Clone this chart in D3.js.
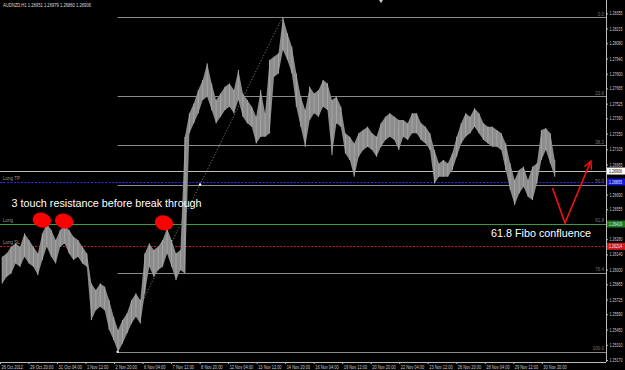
<!DOCTYPE html>
<html>
<head>
<meta charset="utf-8">
<script src="https://cdn.jsdelivr.net/npm/d3@7"></script>
<style>
body{margin:0;background:#000;overflow:hidden;}
svg{display:block;}
</style>
</head>
<body>
<svg width="625" height="370"></svg>
<script>
// AUDNZD H1
var header = "AUDNZD,H1  1.26951 1.26979 1.26860 1.26906";
var segBars = 5; // each high/low pair covers 5 hourly bars
var segHigh = [1.26118,1.26149,1.26210,1.26241,1.26210,1.26333,1.26272,1.26210,1.26149,1.26333,
  1.26425,1.26364,1.26272,1.26364,1.26409,1.26364,1.26302,1.26272,1.26210,1.26149,
  1.25873,1.25812,1.25873,1.25843,1.25720,1.25567,1.25445,1.25537,1.25598,1.25720,
  1.25782,1.25720,1.26149,1.26241,1.26180,1.26210,1.26272,1.26379,1.26272,1.26149,
  1.26180,1.27221,1.27436,1.27527,1.27650,1.27742,1.27895,1.27711,1.27558,1.27619,
  1.27681,1.27711,1.27650,1.27834,1.27619,1.27558,1.27497,1.27405,1.27650,1.27436,
  1.27926,1.27956,1.27987,1.28318,1.28171,1.28048,1.27803,1.27589,1.27466,1.27681,
  1.27619,1.27650,1.27742,1.27711,1.27558,1.27589,1.27497,1.27252,1.27221,1.27160,
  1.27252,1.27282,1.27313,1.27252,1.27221,1.27344,1.27405,1.27436,1.27405,1.27374,
  1.27374,1.27344,1.27436,1.27436,1.27344,1.27313,1.27252,1.27099,1.26976,1.27007,
  1.26976,1.27068,1.27221,1.27344,1.27436,1.27405,1.27482,1.27436,1.27344,1.27313,
  1.27313,1.27282,1.27252,1.27160,1.26976,1.26823,1.26915,1.26945,1.26823,1.26945,
  1.26976,1.27282,1.27298,1.27252,1.27007];
var segLow = [1.25873,1.25935,1.25965,1.26057,1.26027,1.26118,1.26057,1.26027,1.25950,1.26088,
  1.26210,1.26118,1.26057,1.26210,1.26241,1.26149,1.26088,1.26118,1.26057,1.26027,
  1.25537,1.25628,1.25659,1.25628,1.25445,1.25353,1.25246,1.25322,1.25414,1.25506,
  1.25567,1.25506,1.25782,1.26027,1.25935,1.25996,1.26027,1.26149,1.26027,1.25904,
  1.25996,1.25965,1.27252,1.27344,1.27436,1.27558,1.27589,1.27466,1.27344,1.27405,
  1.27466,1.27497,1.27436,1.27558,1.27405,1.27344,1.27313,1.27160,1.27221,1.27221,
  1.27252,1.27773,1.27803,1.28018,1.27926,1.27803,1.27497,1.27313,1.27129,1.27374,
  1.27436,1.27405,1.27497,1.27466,1.27053,1.27344,1.27313,1.27068,1.27007,1.26854,
  1.27037,1.27099,1.27129,1.27099,1.27037,1.27129,1.27191,1.27221,1.27191,1.27099,
  1.27221,1.27191,1.27252,1.27252,1.27191,1.27160,1.27099,1.26792,1.26854,1.26854,
  1.26854,1.26915,1.27037,1.27160,1.27221,1.27252,1.27313,1.27252,1.27191,1.27160,
  1.27129,1.27129,1.27099,1.26915,1.26731,1.26593,1.26700,1.26762,1.26670,1.26639,
  1.26792,1.27007,1.27099,1.26976,1.26854];

var priceTicks = [1.28355,1.28215,1.28080,1.27940,1.27800,1.27665,1.27525,1.27390,1.27250,1.27105,
  1.26965,1.26830,1.26690,1.26555,1.26415,1.26280,1.26140,1.26000,1.25865,1.25725,
  1.25590,1.25450,1.25310,1.25170];
var timeLabels = ["26 Oct 2012","29 Oct 20:00","31 Oct 04:00","1 Nov 12:00","2 Nov 20:00",
  "6 Nov 04:00","7 Nov 12:00","8 Nov 20:00","12 Nov 04:00","13 Nov 12:00","14 Nov 20:00",
  "16 Nov 04:00","19 Nov 12:00","20 Nov 20:00","22 Nov 04:00","23 Nov 12:00","26 Nov 20:00",
  "28 Nov 04:00","29 Nov 12:00","30 Nov 20:00"];
var timeLabelBars = [0,32,64,96,128,160,192,224,256,288,320,352,384,416,448,480,512,544,576,608];

// fibonacci retracement
var fibLevels = [0, 23.6, 38.2, 50, 61.8, 76.4, 100];
var fibLowBar = 132, fibLowPrice = 1.25246;
var fibHighBar = 317, fibHighPrice = 1.28318;

// price lines
var lastPrice = 1.26906;
var orderNames = ["Long TP","Long","Long SL"];
var orderPrices = [1.26805, 1.26419, 1.26214];

// annotations
var touchBars = [47, 72, 184];
var touchPrices = [1.26455, 1.26446, 1.26430];
var note1 = "3 touch resistance before break through";
var note2 = "61.8 Fibo confluence";
var arrowBars = [620, 634, 663];
var arrowPrices = [1.26749, 1.26428, 1.26997];

var svg = d3.select("svg");
var plotR = 606, plotB = 362;
var font = "'Liberation Sans', Arial, sans-serif";

var x = d3.scaleLinear().domain([0, 680]).range([0, plotR]);
var y = d3.scaleLinear().domain([1.25170, 1.28355]).range([360, 13.3]);

svg.append("rect").attr("width",625).attr("height",370).attr("fill","#000");

// fibo levels
var fibG = svg.append("g");
var fibPrice = l => fibHighPrice - (fibHighPrice - fibLowPrice) * l / 100;
fibG.selectAll("line").data(fibLevels).enter().append("line")
  .attr("x1", x(fibLowBar)).attr("x2", plotR)
  .attr("y1", d => Math.round(y(fibPrice(d))) + 0.5)
  .attr("y2", d => Math.round(y(fibPrice(d))) + 0.5)
  .attr("stroke", "#8a8a8a").attr("stroke-width", 1);
fibG.selectAll("text").data(fibLevels).enter().append("text")
  .attr("x", plotR - 2).attr("y", d => y(fibPrice(d)) - 1.5)
  .attr("text-anchor","end").attr("font-family",font).attr("font-size",4.5)
  .attr("fill","#777").text(d => d.toFixed(1));
// trend line of the fibo
svg.append("line")
  .attr("x1", x(fibLowBar)).attr("y1", y(fibLowPrice))
  .attr("x2", x(fibHighBar)).attr("y2", y(fibHighPrice))
  .attr("stroke","#aaa").attr("stroke-width",0.8).attr("stroke-dasharray","1,2");
svg.append("circle")
  .attr("cx", x((fibLowBar + fibHighBar) / 2)).attr("cy", y(fibPrice(50)))
  .attr("r",1.2).attr("fill","#fff");
svg.append("circle")
  .attr("cx", x(fibLowBar)).attr("cy", y(fibLowPrice))
  .attr("r",1.2).attr("fill","#fff");

// order lines
var lineColor = {"Long TP":"#2a2aff","Long":"#3f9a3f","Long SL":"#c81e1e"};
var boxColor = {"Long TP":"#1515e0","Long":"#1e7a1e","Long SL":"#d11a1a"};
svg.append("line")
  .attr("x1",0).attr("x2",plotR)
  .attr("y1",Math.round(y(lastPrice))+0.5).attr("y2",Math.round(y(lastPrice))+0.5)
  .attr("stroke","#bdbdbd").attr("stroke-width",1);
var ord = svg.selectAll(".ord").data(orderNames).enter().append("g");
ord.append("line")
  .attr("x1",0).attr("x2",plotR)
  .attr("y1",(d,i)=>Math.round(y(orderPrices[i]))+0.5)
  .attr("y2",(d,i)=>Math.round(y(orderPrices[i]))+0.5)
  .attr("stroke",d=>lineColor[d]).attr("stroke-width",1)
  .attr("stroke-dasharray",d=>d=="Long" ? null : "2,1.5");
ord.append("text")
  .attr("x",3).attr("y",(d,i)=>y(orderPrices[i]) - 2)
  .attr("font-family",font).attr("font-size",4.5).attr("fill","#999")
  .text(d=>d);

// price bars: hi/lo band + one thin bar per segment
var mid = i => x(i*segBars + segBars/2);
svg.append("path")
  .datum(segHigh)
  .attr("d", d3.area().x((d,i)=>mid(i)).y0((d,i)=>y(segLow[i])).y1(d=>y(d)))
  .attr("fill","#8c8c8c");
svg.append("g").selectAll("line").data(segHigh).enter().append("line")
  .attr("x1",(d,i)=>mid(i)).attr("x2",(d,i)=>mid(i))
  .attr("y1",d=>y(d)).attr("y2",(d,i)=>y(segLow[i]))
  .attr("stroke","#a6a6a6").attr("stroke-width",1);

// frame
svg.append("line").attr("x1",plotR+0.5).attr("x2",plotR+0.5).attr("y1",0).attr("y2",plotB)
  .attr("stroke","#bbb");
svg.append("line").attr("x1",0).attr("x2",plotR).attr("y1",plotB+0.5).attr("y2",plotB+0.5)
  .attr("stroke","#bbb");

// price boxes on the axis
var boxes = [{p:lastPrice, bg:"#ffffff", fg:"#000"}].concat(
  orderNames.map((d,i)=>({p:orderPrices[i], bg:boxColor[d], fg:"#e8e8e8"})));

// price axis (labels hidden where a box sits)
var shownTicks = priceTicks.filter(t => boxes.every(b => Math.abs(y(t) - y(b.p)) > 5));
var yAxis = svg.append("g").attr("transform",`translate(${plotR},0)`)
  .call(d3.axisRight(y).tickValues(shownTicks).tickFormat(d3.format(".5f")).tickSize(2).tickPadding(1.5));
yAxis.select(".domain").remove();
yAxis.selectAll("line").attr("stroke","#bbb");
yAxis.selectAll("text").attr("fill","#ccc").attr("font-family",font).attr("font-size",4.8)
  .attr("textLength",13).attr("lengthAdjust","spacingAndGlyphs");

// time axis
var xAxis = svg.append("g").attr("transform",`translate(0,${plotB})`)
  .call(d3.axisBottom(x).tickValues(timeLabelBars).tickFormat((d,i)=>timeLabels[i]).tickSize(2).tickPadding(1));
xAxis.select(".domain").remove();
xAxis.selectAll("line").attr("stroke","#bbb");
xAxis.selectAll("text").attr("fill","#ccc").attr("font-family",font).attr("font-size",5)
  .attr("text-anchor","start").attr("dx",1)
  .attr("textLength",d=>timeLabels[timeLabelBars.indexOf(d)].length*1.95)
  .attr("lengthAdjust","spacingAndGlyphs");

var bx = svg.selectAll(".box").data(boxes).enter().append("g");
bx.append("rect").attr("x",plotR+1).attr("width",18)
  .attr("y",d=>y(d.p)-3.5).attr("height",7).attr("fill",d=>d.bg);
bx.append("text").attr("x",plotR+3).attr("y",d=>y(d.p)+2)
  .attr("font-family",font).attr("font-size",4.8).attr("fill",d=>d.fg)
  .attr("textLength",13).attr("lengthAdjust","spacingAndGlyphs")
  .text(d=>d.p.toFixed(5));

// header
svg.append("text").attr("x",3).attr("y",7)
  .attr("font-family",font).attr("font-size",5).attr("fill","#ddd")
  .attr("textLength",88).attr("lengthAdjust","spacingAndGlyphs")
  .text(header);
svg.append("path").attr("d","M379,0 L383,0 L381,3 Z").attr("fill","#ccc");

// red touches
svg.selectAll(".touch").data(touchBars).enter().append("ellipse")
  .attr("cx",d=>x(d)).attr("cy",(d,i)=>y(touchPrices[i]))
  .attr("rx",9.3).attr("ry",7.4)
  .attr("transform",(d,i)=>`rotate(15,${x(d)},${y(touchPrices[i])})`)
  .attr("fill","#ff0000");

// notes
svg.append("text").attr("x",x(13)).attr("y",y(1.26575))
  .attr("font-family",font).attr("font-size",11.5).attr("fill","#fff")
  .attr("textLength",190).attr("lengthAdjust","spacingAndGlyphs")
  .text(note1);
svg.append("text").attr("x",x(551)).attr("y",y(1.26299))
  .attr("font-family",font).attr("font-size",11.5).attr("fill","#fff")
  .attr("textLength",100).attr("lengthAdjust","spacingAndGlyphs")
  .text(note2);

// red arrow
svg.append("defs").append("marker")
  .attr("id","head").attr("viewBox","0 0 10 10").attr("refX",9).attr("refY",5)
  .attr("markerWidth",6).attr("markerHeight",6).attr("orient","auto")
  .append("path").attr("d","M1,1 L9,5 L1,9").attr("fill","none")
  .attr("stroke","#e11").attr("stroke-width",1.6);
svg.append("path")
  .attr("d", d3.line().x(d=>x(d)).y((d,i)=>y(arrowPrices[i]))(arrowBars))
  .attr("fill","none").attr("stroke","#e11").attr("stroke-width",1.6)
  .attr("marker-end","url(#head)");
</script>
</body>
</html>
